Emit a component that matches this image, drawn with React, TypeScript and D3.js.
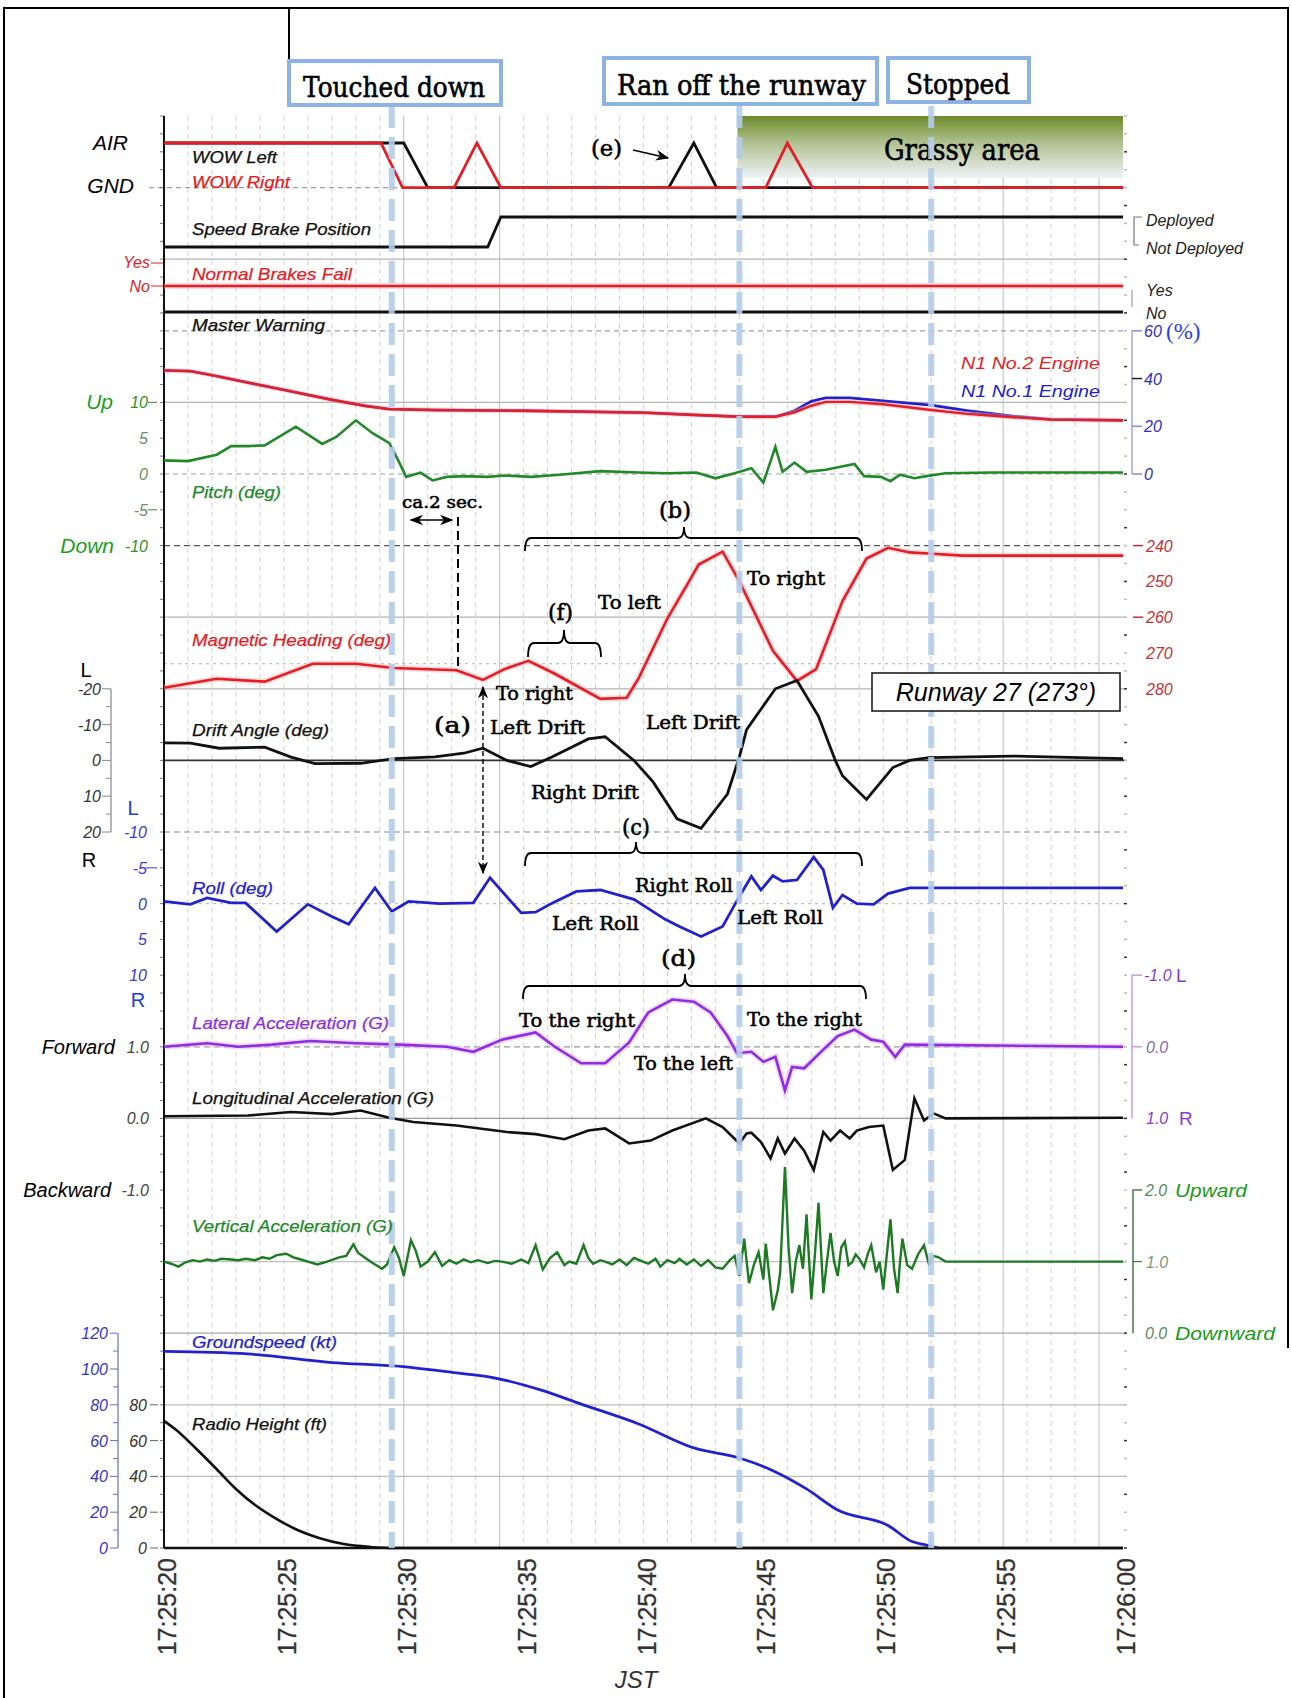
import React from "react";
import * as d3 from "d3";

// ---- time axis (seconds after 17:25:20) ----
const tickSeconds = [0, 5, 10, 15, 20, 25, 30, 35, 40];
const tickLabels = ["17:25:20", "17:25:25", "17:25:30", "17:25:35", "17:25:40", "17:25:45", "17:25:50", "17:25:55", "17:26:00"];
const solidGridSeconds = [10, 14, 35, 39];
const eventSeconds = [9.5, 24, 32];

// ---- discrete parameters (1 = AIR / Deployed / Yes) ----
const wowLeft = [[0, 1], [10, 1], [11, 0], [21.05, 0], [22.1, 1], [23.05, 0], [40, 0]];
const wowRight = [[0, 1], [9.05, 1], [9.95, 0], [12.1, 0], [13.05, 1], [14.05, 0], [25.1, 0], [26.0, 1], [27.05, 0], [40, 0]];
const speedBrake = [[0, 0], [13.5, 0], [14.05, 1], [40, 1]];
const brakesFail = [[0, 0], [40, 0]];
const masterWarning = [[0, 0], [40, 0]];

// ---- N1 (%) ----
const n1No1 = [[0, 43.4], [1.1, 43.1], [2.2, 41], [3.5, 38.3], [5.3, 34.6], [7, 31.1], [8.4, 28.5], [9.4, 27.2], [11.3, 26.8], [15, 26.5], [20, 25.7], [22, 24.8], [24, 24], [25.5, 24], [26.3, 26.5], [27, 30.5], [27.6, 31.9], [28.6, 31.9], [30, 30.6], [32, 28.9], [33.5, 26.5], [35.4, 24.2], [37, 22.9], [40, 22.5]];
const n1No2 = [[0, 43.4], [1.1, 43.1], [2.2, 41], [3.5, 38.3], [5.3, 34.6], [7, 31.1], [8.4, 28.5], [9.4, 27.2], [11.3, 26.8], [15, 26.5], [20, 25.7], [22, 24.8], [24, 24], [25.5, 24], [26.3, 25.8], [27, 28.6], [27.6, 30.2], [28.6, 30.2], [30, 29.2], [32, 26.8], [33.5, 25.2], [35.4, 23.8], [37, 22.8], [40, 22.5]];

// ---- pitch (deg) ----
const pitch = [[0, 1.9], [1.0, 1.8], [2.2, 2.7], [2.8, 3.9], [3.5, 3.9], [4.2, 4.0], [5.5, 6.6], [6.6, 4.2], [7.2, 5.2], [8.0, 7.5], [8.7, 5.7], [9.4, 4.3], [9.8, 1.7], [10.1, -0.4], [10.7, 0.2], [11.2, -0.9], [11.8, -0.4], [12.5, -0.3], [13.5, -0.4], [14.2, -0.2], [15.3, -0.4], [16.5, -0.1], [18.2, 0.4], [19.8, 0.2], [21, 0.1], [22.2, 0.2], [23.0, -0.6], [23.8, 0.1], [24.5, 0.8], [25.0, -1.2], [25.5, 3.8], [25.8, 0.3], [26.3, 1.6], [26.8, 0.3], [27.6, 0.6], [28.8, 1.4], [29.2, -0.3], [29.9, -0.4], [30.3, -1.0], [30.7, -0.1], [31.3, -0.6], [31.8, -0.3], [32.6, 0.1], [34.5, 0.2], [40, 0.2]];

// ---- magnetic heading (deg) ----
const heading = [[0, 279.7], [2.2, 277.2], [4.2, 278], [6.2, 273], [8, 273], [9.6, 274.2], [12.2, 274.8], [13.3, 277.5], [14.2, 274.5], [15.2, 272.2], [16.3, 275.8], [18.2, 282.8], [19.3, 282.5], [19.8, 277], [21, 260.3], [21.9, 250], [22.3, 245.3], [23.3, 241.7], [24, 250], [25.4, 269.4], [26.4, 277.8], [27.2, 274.5], [28.3, 255.5], [29.3, 243.6], [30.2, 240.6], [31.1, 241.9], [31.9, 242.2], [33.3, 242.8], [40, 242.8]];

// ---- drift angle (deg, negative = left) ----
const drift = [[0, -4.9], [1.1, -4.8], [2.3, -3.4], [4.2, -3.7], [5.3, -0.9], [6.3, 0.9], [8.2, 0.8], [9.6, -0.5], [11.3, -1], [12.5, -2], [13.3, -3.4], [14.3, 0], [15.3, 1.7], [16.2, -1], [17.7, -6], [18.4, -6.6], [19.6, 0], [20.4, 6], [21.4, 16.3], [22.4, 19], [23.5, 9.4], [24, -1], [24.3, -8.6], [25.5, -20], [26.4, -22.3], [27.3, -12.3], [28, 0], [28.3, 4.3], [29.3, 10.9], [30.4, 2], [31.1, 0], [31.9, -0.8], [35.4, -1.2], [40, -0.5]];

// ---- roll (deg, negative = left) ----
const roll = [[0, -0.3], [1.1, 0.1], [1.8, -0.8], [2.8, -0.1], [3.4, -0.1], [4.7, 3.9], [6.0, 0.1], [7.0, 1.8], [7.7, 2.9], [8.8, -2.2], [9.5, 1.1], [10.2, -0.3], [11.5, 0], [12.9, -0.1], [13.6, -3.6], [14.9, 1.3], [15.5, 1.2], [16.1, 0.1], [17.2, -1.7], [18.2, -1.9], [19.6, -0.6], [20.9, 2.2], [21.5, 3.2], [22.4, 4.6], [23.3, 3.2], [24, -1], [24.5, -3.8], [24.9, -1.9], [25.4, -3.9], [25.8, -3.1], [26.4, -3.3], [27.1, -6.5], [27.5, -4.7], [27.9, 0.6], [28.3, -1.2], [28.9, 0], [29.6, 0.1], [30.2, -1.4], [31.1, -2.2], [40, -2.2]];

// ---- lateral acceleration (G, negative = left) ----
const latAcc = [[0, 0], [1.8, -0.05], [3.1, 0], [4.5, -0.03], [6.1, -0.08], [8, -0.05], [9.8, -0.03], [11.8, 0], [12.9, 0.07], [14.1, -0.1], [15.5, -0.2], [16.3, 0], [17.4, 0.23], [18.4, 0.23], [19.4, -0.06], [20.2, -0.48], [21.2, -0.66], [22.1, -0.63], [22.8, -0.48], [23.5, -0.15], [23.9, 0.09], [24.5, 0.07], [25, 0.21], [25.5, 0.14], [25.9, 0.61], [26.2, 0.28], [26.7, 0.3], [27.5, 0.04], [28.1, -0.15], [28.8, -0.24], [29.5, -0.1], [30, -0.07], [30.5, 0.14], [30.9, -0.03], [40, 0]];

// ---- longitudinal acceleration (G, positive = forward) ----
const lonAcc = [[0, 0.03], [3.5, 0.04], [5.3, 0.09], [7, 0.06], [8.2, 0.11], [9.4, 0.01], [10.4, -0.05], [12.2, -0.1], [14.3, -0.19], [15.5, -0.22], [16.7, -0.29], [17.7, -0.17], [18.4, -0.14], [19.4, -0.35], [20.3, -0.31], [21.2, -0.17], [22.6, 0], [23.3, -0.12], [24.0, -0.35], [24.3, -0.21], [24.5, -0.2], [24.9, -0.33], [25.3, -0.56], [25.6, -0.28], [25.9, -0.49], [26.3, -0.28], [26.7, -0.45], [27.1, -0.72], [27.5, -0.19], [27.8, -0.31], [28.2, -0.17], [28.6, -0.28], [28.9, -0.17], [29.4, -0.12], [30.0, -0.1], [30.4, -0.72], [30.9, -0.58], [31.3, 0.28], [31.7, -0.03], [32.1, 0.07], [32.6, 0], [40, 0.01]];

// ---- vertical acceleration (G) ----
const vertAcc = [[0, 1.0], [0.3, 0.97], [0.6, 0.93], [0.9, 0.99], [1.2, 1.02], [1.5, 1.0], [1.8, 1.03], [2.1, 1.01], [2.4, 1.04], [2.8, 1.03], [3.1, 1.02], [3.4, 1.04], [3.8, 1.02], [4.1, 1.06], [4.4, 1.04], [4.7, 1.09], [5.1, 1.11], [5.4, 1.06], [5.6, 1.04], [6.0, 1.0], [6.4, 0.96], [6.8, 1.0], [7.3, 1.06], [7.6, 1.08], [7.9, 1.24], [8.1, 1.12], [8.4, 1.05], [8.7, 0.98], [9.1, 0.9], [9.3, 0.96], [9.6, 1.2], [9.8, 1.05], [10.0, 0.8], [10.3, 1.3], [10.5, 1.15], [10.7, 0.93], [11.0, 1.0], [11.3, 1.13], [11.6, 0.94], [11.9, 1.02], [12.2, 0.97], [12.5, 1.03], [12.8, 0.99], [13.1, 1.02], [13.5, 0.98], [13.8, 1.01], [14.1, 1.0], [14.5, 0.97], [14.9, 1.03], [15.2, 0.98], [15.5, 1.23], [15.8, 0.89], [16.1, 1.05], [16.4, 1.13], [16.7, 0.95], [16.9, 1.0], [17.2, 0.97], [17.5, 1.23], [17.7, 1.05], [17.9, 0.97], [18.2, 1.02], [18.4, 1.0], [18.7, 0.96], [19.0, 1.03], [19.3, 0.95], [19.6, 1.05], [19.9, 1.01], [20.2, 0.97], [20.5, 1.04], [20.7, 0.93], [21.0, 1.02], [21.3, 0.98], [21.5, 1.04], [21.8, 0.96], [22.1, 1.03], [22.4, 0.94], [22.7, 1.02], [23.0, 0.92], [23.3, 0.9], [23.6, 1.02], [23.8, 1.08], [24.0, 0.8], [24.2, 1.32], [24.4, 0.7], [24.6, 0.95], [24.8, 1.13], [25.0, 0.75], [25.1, 1.25], [25.4, 0.32], [25.6, 0.6], [25.7, 0.85], [25.9, 2.32], [26.05, 1.2], [26.2, 0.56], [26.35, 1.0], [26.5, 1.23], [26.65, 0.9], [26.8, 1.66], [27.0, 0.47], [27.15, 1.1], [27.3, 1.82], [27.5, 0.56], [27.65, 1.0], [27.8, 1.4], [27.95, 1.0], [28.1, 0.8], [28.25, 1.2], [28.4, 1.28], [28.55, 0.95], [28.7, 0.99], [28.85, 1.1], [29.0, 1.04], [29.2, 0.92], [29.35, 1.1], [29.5, 1.23], [29.7, 0.85], [29.85, 1.0], [30.0, 0.61], [30.15, 1.1], [30.3, 1.59], [30.45, 0.9], [30.6, 0.56], [30.7, 1.0], [30.8, 1.32], [31.0, 0.95], [31.2, 0.9], [31.45, 1.1], [31.7, 1.23], [31.9, 0.97], [32.1, 1.08], [32.3, 1.06], [32.6, 1.0], [33, 1.0], [40, 1.0]];

// ---- groundspeed (kt) and radio height (ft) ----
const groundSpeed = [[0, 109.8], [3.5, 108.4], [7, 103.6], [9.6, 101.7], [12.2, 97.8], [13.6, 95.5], [15.7, 88.3], [17.4, 80.4], [19.8, 69.3], [22.1, 55.9], [24, 50.3], [25.4, 43.2], [26.8, 33], [28.1, 21.2], [30.2, 12.6], [31.2, 3.6], [31.8, 1.6], [32.3, 0]];
const radioHeight = [[0, 71], [0.5, 66], [1.3, 56], [2.2, 44], [3.0, 33], [3.8, 24], [4.6, 17], [5.5, 10.5], [6.5, 5.5], [7.5, 2.2], [8.6, 0.6], [9.6, 0], [40, 0]];

// ---- axis tick values ----
const n1Ticks = [0, 20, 40, 60];
const headingTicks = [240, 250, 260, 270, 280];
const pitchTicks = [10, 5, 0, -5, -10];
const driftTicks = [-20, -10, 0, 10, 20];
const rollTicks = [-10, -5, 0, 5, 10];
const speedTicks = [0, 20, 40, 60, 80, 100, 120];
const heightTicks = [0, 20, 40, 60, 80];

const W = 1291;
const H = 1698;
const X0 = 164;
const X1 = 1123;
const YB = 1548;
const YT = 116;
const U = (YB - YT) / 40;
const yG = (k: number) => YB - k * U;

const SANS = "Liberation Sans, Arial, sans-serif";
const SERIF = "DejaVu Serif, serif";
const RED = "#e41e26";
const BLUE = "#2222cc";
const GREEN = "#22882a";
const PURPLE = "#8e2ee0";
const MARK = "#b3cdea";

export default function App() {
  const x = d3.scaleLinear().domain([0, 40]).range([X0, X1]);
  const yWow = d3.scaleLinear().domain([0, 1]).range([yG(38), 143]);
  const ySpd = d3.scaleLinear().domain([0, 1]).range([247, 217]);
  const yBrk = d3.scaleLinear().domain([0, 1]).range([286, 263]);
  const yMw = d3.scaleLinear().domain([0, 1]).range([312, 290]);
  const yN1 = d3.scaleLinear().domain([0, 60]).range([yG(30), yG(34)]);
  const yPitch = d3.scaleLinear().domain([-10, 10]).range([yG(28), yG(32)]);
  const yHdg = d3.scaleLinear().domain([240, 280]).range([yG(28), yG(24)]);
  const yDrift = d3.scaleLinear().domain([-20, 20]).range([yG(24), yG(20)]);
  const yRoll = d3.scaleLinear().domain([-10, 10]).range([yG(20), yG(16)]);
  const yLat = d3.scaleLinear().domain([-1, 1]).range([yG(16), yG(12)]);
  const yLon = d3.scaleLinear().domain([-1, 1]).range([yG(10), yG(14)]);
  const yVert = d3.scaleLinear().domain([0, 2]).range([yG(6), yG(10)]);
  const yGs = d3.scaleLinear().domain([0, 120]).range([yG(0), yG(6)]);
  const yRh = d3.scaleLinear().domain([0, 80]).range([yG(0), yG(4)]);

  const path = (data: number[][], ys: d3.ScaleLinear<number, number>, curve: d3.CurveFactory = d3.curveLinear) =>
    d3.line<number[]>().x((d) => x(d[0])).y((d) => ys(d[1])).curve(curve)(data) || "";

  const hGrid = [
    { y: yG(38), dash: "5 4", c: "#a0a0a0" },
    { y: yG(36), dash: "", c: "#b4b4b4" },
    { y: yG(34), dash: "5 4", c: "#a0a0a0" },
    { y: yG(32), dash: "", c: "#b4b4b4" },
    { y: yG(30), dash: "5 4", c: "#a0a0a0" },
    { y: yG(28), dash: "6 4", c: "#555" },
    { y: yG(26), dash: "", c: "#b4b4b4" },
    { y: yHdg(273), dash: "3 4", c: "#b0b0b0" },
    { y: yG(24), dash: "", c: "#b4b4b4" },
    { y: yG(22), dash: "", c: "#333" },
    { y: yG(20), dash: "6 4", c: "#8a8a8a" },
    { y: yG(18), dash: "3 4", c: "#c0c0c0" },
    { y: yG(14), dash: "6 4", c: "#9a9a9a" },
    { y: yG(12), dash: "", c: "#9a9a9a" },
    { y: yG(8), dash: "", c: "#c0c0c0" },
    { y: yG(6), dash: "", c: "#a8a8a8" },
    { y: yG(4), dash: "", c: "#bcbcbc" },
    { y: yG(2), dash: "", c: "#bcbcbc" },
  ];

  const seriesLabels = [
    { t: "WOW Left", y: 157, w: 85, c: "#111" },
    { t: "WOW Right", y: 182, w: 98, c: RED },
    { t: "Speed Brake Position", y: 229, w: 179, c: "#111" },
    { t: "Normal Brakes Fail", y: 274, w: 160, c: RED },
    { t: "Master Warning", y: 325, w: 133, c: "#111" },
    { t: "Pitch (deg)", y: 492, w: 89, c: GREEN },
    { t: "Magnetic Heading (deg)", y: 640, w: 199, c: RED },
    { t: "Drift Angle (deg)", y: 730, w: 137, c: "#111" },
    { t: "Roll (deg)", y: 888, w: 81, c: BLUE },
    { t: "Lateral Acceleration (G)", y: 1023, w: 197, c: PURPLE },
    { t: "Longitudinal Acceleration (G)", y: 1098, w: 242, c: "#111" },
    { t: "Vertical Acceleration (G)", y: 1226, w: 201, c: GREEN },
    { t: "Groundspeed (kt)", y: 1342, w: 145, c: BLUE },
    { t: "Radio Height (ft)", y: 1424, w: 135, c: "#111" },
  ];

  const brace = (x1: number, x2: number, tip: number, yh: number, yEnd: number, yTip: number) =>
    `M${x1},${yEnd} Q${x1},${yh} ${x1 + 6},${yh} L${tip - 6},${yh} Q${tip},${yh} ${tip},${yTip} Q${tip},${yh} ${tip + 6},${yh} L${x2 - 6},${yh} Q${x2},${yh} ${x2},${yEnd}`;

  // serif annotation text, squeezed to the measured width and slightly emboldened
  const ann = (t: string, x0: number, y: number, w: number, size = 19) => (
    <text key={t + x0 + y} x={x0} y={y} fontFamily={SERIF} fontSize={size} textLength={w} lengthAdjust="spacingAndGlyphs"
      fill="#000" stroke="#000" strokeWidth={0.55}>
      {t}
    </text>
  );

  const minorTicks = d3.range(0, 81).map((i) => YB - (i * U) / 2);

  return (
    <svg width={W} height={H} style={{ position: "absolute", left: 0, top: 0, background: "#fff" }}>
      <defs>
        <linearGradient id="grass" x1="0" y1="0" x2="0" y2="1">
          <stop offset="0" stopColor="#6c8a2a" />
          <stop offset="0.45" stopColor="#b3c394" />
          <stop offset="1" stopColor="#eef3f7" />
        </linearGradient>
        <marker id="ah" viewBox="0 0 10 10" refX="9" refY="5" markerWidth="9" markerHeight="9" orient="auto-start-reverse">
          <path d="M0,1 L10,5 L0,9 L3,5 Z" fill="#000" />
        </marker>
      </defs>

      {/* frame */}
      <path d="M4,1698 L4,8 L1288,8 L1288,1348" fill="none" stroke="#000" strokeWidth={2} />
      <line x1={289} y1={8} x2={289} y2={62} stroke="#000" strokeWidth={2} />

      {/* vertical grid */}
      {d3.range(1, 40).map((t) => (
        <line key={"vg" + t} x1={x(t)} x2={x(t)} y1={YT} y2={YB}
          stroke={solidGridSeconds.includes(t) ? "#bdbdbd" : "#d2d2d2"}
          strokeDasharray={solidGridSeconds.includes(t) ? undefined : "5 4"} strokeWidth={1} />
      ))}
      {/* horizontal grid */}
      {hGrid.map((g, i) => (
        <line key={"hg" + i} x1={i === 0 ? 149 : X0} x2={X1 + 2} y1={g.y} y2={g.y} stroke={g.c}
          strokeDasharray={g.dash || undefined} strokeWidth={i === 9 ? 1.6 : 1.2} />
      ))}

      {/* grassy area */}
      <rect x={x(24) - 2} y={YT} width={X1 - x(24) + 2} height={62} fill="url(#grass)" />
      <text x={962} y={160} textAnchor="middle" fontFamily={SERIF} fontSize={29} textLength={156} lengthAdjust="spacingAndGlyphs"
        stroke="#000" strokeWidth={0.6}>Grassy area</text>

      {/* minor ticks */}
      {minorTicks.map((y, i) => (
        <g key={"mt" + i}>
          <line x1={X0 - 4} x2={X0} y1={y} y2={y} stroke="#777" strokeWidth={1} />
          <line x1={X1 + 1} x2={X1 + 4} y1={y} y2={y} stroke={i % 3 === 0 ? "#333" : "#bbb"} strokeWidth={1.5} />
        </g>
      ))}

      {/* axes */}
      <line x1={X0} x2={X0} y1={YT} y2={YB} stroke="#111" strokeWidth={2} />
      <line x1={X0} x2={X1} y1={YB} y2={YB} stroke="#111" strokeWidth={2.5} />

      {/* data lines */}
      <path d={path(wowLeft, yWow)} fill="none" stroke="#111" strokeWidth={2.8} />
      <path d={path(wowRight, yWow)} fill="none" stroke={RED} strokeWidth={2.8} />
      <path d={path(speedBrake, ySpd)} fill="none" stroke="#111" strokeWidth={2.8} />
      <path d={path(brakesFail, yBrk)} fill="none" stroke="#f6b0b4" strokeWidth={6} opacity={0.5} />
      <path d={path(brakesFail, yBrk)} fill="none" stroke={RED} strokeWidth={2.6} />
      <path d={path(masterWarning, yMw)} fill="none" stroke="#111" strokeWidth={3} />

      <path d={path(n1No1, yN1)} fill="none" stroke={BLUE} strokeWidth={2.8} />
      <path d={path(n1No2, yN1)} fill="none" stroke="#f4a8ac" strokeWidth={5} opacity={0.45} />
      <path d={path(n1No2, yN1)} fill="none" stroke={RED} strokeWidth={2.4} />

      <path d={path(pitch, yPitch)} fill="none" stroke={GREEN} strokeWidth={2.6} />
      <path d={path(heading, yHdg)} fill="none" stroke="#f6b0b4" strokeWidth={6} opacity={0.45} />
      <path d={path(heading, yHdg)} fill="none" stroke={RED} strokeWidth={2.6} />
      <path d={path(drift, yDrift)} fill="none" stroke="#111" strokeWidth={2.8} />
      <path d={path(roll, yRoll)} fill="none" stroke={BLUE} strokeWidth={2.8} />
      <path d={path(latAcc, yLat)} fill="none" stroke="#e2b4f4" strokeWidth={6} opacity={0.5} />
      <path d={path(latAcc, yLat)} fill="none" stroke={PURPLE} strokeWidth={2.6} />
      <path d={path(lonAcc, yLon)} fill="none" stroke="#111" strokeWidth={2.6} />
      <path d={path(vertAcc, yVert)} fill="none" stroke="#1c7a22" strokeWidth={2.4} />
      <path d={path(groundSpeed, yGs, d3.curveMonotoneX)} fill="none" stroke={BLUE} strokeWidth={2.8} />
      <path d={path(radioHeight, yRh, d3.curveMonotoneX)} fill="none" stroke="#111" strokeWidth={2.6} />

      {/* event markers */}
      {eventSeconds.map((t) => (
        <line key={"ev" + t} x1={x(t)} x2={x(t)} y1={106} y2={YB} stroke={MARK} strokeWidth={6} strokeDasharray="22 9" opacity={0.9} />
      ))}

      {/* event boxes */}
      <rect x={289} y={61} width={212} height={44} fill="#fff" stroke="#8db3e2" strokeWidth={4} />
      <text x={303} y={97} fontFamily={SERIF} fontSize={27} textLength={182} lengthAdjust="spacingAndGlyphs" stroke="#000" strokeWidth={0.6}>Touched down</text>
      <rect x={604} y={58} width={273} height={46} fill="#fff" stroke="#8db3e2" strokeWidth={4} />
      <text x={617} y={95} fontFamily={SERIF} fontSize={27} textLength={249} lengthAdjust="spacingAndGlyphs" stroke="#000" strokeWidth={0.6}>Ran off the runway</text>
      <rect x={888} y={58} width={141} height={44} fill="#fff" stroke="#8db3e2" strokeWidth={4} />
      <text x={906} y={94} fontFamily={SERIF} fontSize={27} textLength={104} lengthAdjust="spacingAndGlyphs" stroke="#000" strokeWidth={0.6}>Stopped</text>

      {/* series labels */}
      {seriesLabels.map((l) => (
        <text key={l.t} x={192} y={l.y + 6} fontFamily={SANS} fontStyle="italic" fontSize={16.5} fill={l.c}
          stroke={l.c} strokeWidth={0.25} textLength={l.w} lengthAdjust="spacingAndGlyphs">{l.t}</text>
      ))}

      {/* left labels: discrete */}
      <text x={128} y={150} textAnchor="end" fontFamily={SANS} fontStyle="italic" fontSize={21}>AIR</text>
      <text x={134} y={193} textAnchor="end" fontFamily={SANS} fontStyle="italic" fontSize={21}>GND</text>
      <text x={150} y={268} textAnchor="end" fontFamily={SANS} fontStyle="italic" fontSize={16} fill={RED}>Yes</text>
      <text x={150} y={292} textAnchor="end" fontFamily={SANS} fontStyle="italic" fontSize={16} fill={RED}>No</text>
      <line x1={151} x2={163} y1={yBrk(1)} y2={yBrk(1)} stroke={RED} strokeWidth={1} />
      <line x1={151} x2={163} y1={yBrk(0)} y2={yBrk(0)} stroke={RED} strokeWidth={1} />

      {/* pitch axis */}
      <text x={113} y={yPitch(10) + 7} textAnchor="end" fontFamily={SANS} fontStyle="italic" fontSize={21} fill="#1a9e1a">Up</text>
      <text x={114} y={yPitch(-10) + 7} textAnchor="end" fontFamily={SANS} fontStyle="italic" fontSize={21} fill="#1a9e1a">Down</text>
      {pitchTicks.map((v) => (
        <g key={"pt" + v}>
          <text x={148} y={yPitch(v) + 6} textAnchor="end" fontFamily={SANS} fontStyle="italic" fontSize={16} fill={v === 10 || v === -10 ? "#2a942a" : "#6a8f6a"}>{v}</text>
          {(v === 10 || v === -5) && <line x1={148} x2={157} y1={yPitch(v)} y2={yPitch(v)} stroke="#6a8f6a" strokeWidth={1.2} />}
        </g>
      ))}

      {/* drift axis */}
      <line x1={111} x2={111} y1={yDrift(-20)} y2={yDrift(20)} stroke="#888" strokeWidth={1.2} />
      {d3.range(-20, 21, 5).map((v) => (
        <line key={"dmt" + v} x1={v % 10 === 0 ? 102 : 106} x2={111} y1={yDrift(v)} y2={yDrift(v)} stroke="#888" strokeWidth={1} />
      ))}
      {driftTicks.map((v) => (
        <text key={"dt" + v} x={101} y={yDrift(v) + 6} textAnchor="end" fontFamily={SANS} fontStyle="italic" fontSize={16} fill="#333">{v}</text>
      ))}
      <text x={86} y={677} textAnchor="middle" fontFamily={SANS} fontSize={20}>L</text>
      <text x={89} y={867} textAnchor="middle" fontFamily={SANS} fontSize={20}>R</text>

      {/* roll axis */}
      {rollTicks.map((v) => (
        <g key={"rt" + v}>
          <text x={147} y={yRoll(v) + 6} textAnchor="end" fontFamily={SANS} fontStyle="italic" fontSize={16} fill="#3a3ad0">{v}</text>
          {v === -5 && <line x1={146} x2={157} y1={yRoll(v)} y2={yRoll(v)} stroke="#5a5ad0" strokeWidth={1.2} />}
        </g>
      ))}
      <text x={133} y={815} textAnchor="middle" fontFamily={SANS} fontSize={20} fill="#2040d0">L</text>
      <text x={138} y={1007} textAnchor="middle" fontFamily={SANS} fontSize={20} fill="#2040d0">R</text>

      {/* longitudinal axis */}
      <text x={115} y={yLon(1) + 7} textAnchor="end" fontFamily={SANS} fontStyle="italic" fontSize={20}>Forward</text>
      <text x={149} y={yLon(1) + 6} textAnchor="end" fontFamily={SANS} fontStyle="italic" fontSize={16} fill="#444">1.0</text>
      <text x={149} y={yLon(0) + 6} textAnchor="end" fontFamily={SANS} fontStyle="italic" fontSize={16} fill="#444">0.0</text>
      <text x={111} y={yLon(-1) + 7} textAnchor="end" fontFamily={SANS} fontStyle="italic" fontSize={20}>Backward</text>
      <text x={149} y={yLon(-1) + 6} textAnchor="end" fontFamily={SANS} fontStyle="italic" fontSize={16} fill="#444">-1.0</text>

      {/* groundspeed / radio height axes */}
      <line x1={118} x2={118} y1={yGs(120)} y2={yGs(0)} stroke="#6a6ad8" strokeWidth={1.2} />
      {d3.range(0, 121, 10).map((v) => (
        <line key={"gsm" + v} x1={v % 20 === 0 ? 110 : 113} x2={118} y1={yGs(v)} y2={yGs(v)} stroke="#6a6ad8" strokeWidth={1} />
      ))}
      {speedTicks.map((v) => (
        <text key={"gs" + v} x={108} y={yGs(v) + 6} textAnchor="end" fontFamily={SANS} fontStyle="italic" fontSize={16} fill="#3535c8">{v}</text>
      ))}
      {heightTicks.map((v) => (
        <g key={"rh" + v}>
          <text x={147} y={yRh(v) + 6} textAnchor="end" fontFamily={SANS} fontStyle="italic" fontSize={16} fill="#333">{v}</text>
          <line x1={150} x2={158} y1={yRh(v)} y2={yRh(v)} stroke="#666" strokeWidth={1} />
        </g>
      ))}

      {/* right side: speed brake, warnings */}
      <path d="M1142,217 L1134,217 L1134,245 L1139,245" fill="none" stroke="#777" strokeWidth={1.2} />
      <text x={1146} y={226} fontFamily={SANS} fontStyle="italic" fontSize={16} fill="#222">Deployed</text>
      <text x={1146} y={254} fontFamily={SANS} fontStyle="italic" fontSize={16} fill="#222">Not Deployed</text>
      <line x1={1132} x2={1132} y1={290} y2={307} stroke="#999" strokeWidth={1.2} />
      <text x={1146} y={296} fontFamily={SANS} fontStyle="italic" fontSize={16} fill="#222">Yes</text>
      <text x={1146} y={319} fontFamily={SANS} fontStyle="italic" fontSize={16} fill="#222">No</text>

      {/* N1 axis */}
      <line x1={1132} x2={1132} y1={yN1(60)} y2={yN1(0)} stroke="#8a8ae0" strokeWidth={1.2} />
      {n1Ticks.map((v) => (
        <g key={"n1" + v}>
          <line x1={1132} x2={1142} y1={yN1(v)} y2={yN1(v)} stroke={v === 40 ? "#222" : "#8a8ae0"} strokeWidth={1.5} />
          <text x={1144} y={yN1(v) + 6} fontFamily={SANS} fontStyle="italic" fontSize={16} fill="#2e2ec0">{v}</text>
        </g>
      ))}
      <text x={1166} y={yN1(60) + 8} fontFamily="Liberation Serif, serif" fontSize={23} fill="#1f3ff0">(%)</text>
      <text x={961} y={369} fontFamily={SANS} fontStyle="italic" fontSize={16} fill={RED} textLength={139} lengthAdjust="spacingAndGlyphs">N1 No.2  Engine</text>
      <text x={961} y={397} fontFamily={SANS} fontStyle="italic" fontSize={16} fill={BLUE} textLength={139} lengthAdjust="spacingAndGlyphs">N1 No.1  Engine</text>

      {/* heading axis */}
      {headingTicks.map((v) => (
        <g key={"hd" + v}>
          {(v === 240 || v === 260) && <line x1={1133} x2={1143} y1={yHdg(v)} y2={yHdg(v)} stroke="#c0303a" strokeWidth={1.5} />}
          <text x={1146} y={yHdg(v) + 6} fontFamily={SANS} fontStyle="italic" fontSize={16} fill="#c8303a">{v}</text>
        </g>
      ))}

      {/* lateral axis */}
      <path d={`M1142,${yLat(-1)} L1132,${yLat(-1)} L1132,${yLat(1)}`} fill="none" stroke="#b58ad8" strokeWidth={1.2} />
      <line x1={1132} x2={1142} y1={yLat(0)} y2={yLat(0)} stroke="#b58ad8" strokeWidth={1.2} />
      <text x={1144} y={yLat(-1) + 6} fontFamily={SANS} fontStyle="italic" fontSize={16} fill="#8a3ad0">-1.0</text>
      <text x={1176} y={yLat(-1) + 7} fontFamily={SANS} fontSize={19} fill="#8a3ad0">L</text>
      <text x={1146} y={yLat(0) + 6} fontFamily={SANS} fontStyle="italic" fontSize={16} fill="#8a6aa8">0.0</text>
      <text x={1146} y={yLat(1) + 6} fontFamily={SANS} fontStyle="italic" fontSize={16} fill="#8a3ad0">1.0</text>
      <text x={1179} y={yLat(1) + 7} fontFamily={SANS} fontSize={19} fill="#8a3ad0">R</text>

      {/* vertical acceleration axis */}
      <path d={`M1142,${yVert(2)} L1133,${yVert(2)} L1133,${yVert(0)}`} fill="none" stroke="#4a7a4a" strokeWidth={1.5} />
      <line x1={1133} x2={1142} y1={yVert(1)} y2={yVert(1)} stroke="#4a7a4a" strokeWidth={1.2} />
      <text x={1145} y={yVert(2) + 6} fontFamily={SANS} fontStyle="italic" fontSize={16} fill="#5a8a5a">2.0</text>
      <text x={1175} y={yVert(2) + 7} fontFamily={SANS} fontStyle="italic" fontSize={19} fill="#1a9a1a" textLength={72} lengthAdjust="spacingAndGlyphs">Upward</text>
      <text x={1146} y={yVert(1) + 6} fontFamily={SANS} fontStyle="italic" fontSize={16} fill="#7a9a7a">1.0</text>
      <text x={1145} y={yVert(0) + 6} fontFamily={SANS} fontStyle="italic" fontSize={16} fill="#5a8a5a">0.0</text>
      <text x={1175} y={yVert(0) + 7} fontFamily={SANS} fontStyle="italic" fontSize={19} fill="#1a9a1a" textLength={100} lengthAdjust="spacingAndGlyphs">Downward</text>

      {/* runway box */}
      <rect x={872} y={673} width={248} height={38} fill="#fff" stroke="#111" strokeWidth={1.5} />
      <text x={996} y={701} textAnchor="middle" fontFamily={SANS} fontStyle="italic" fontSize={25}>Runway 27 (273°)</text>

      {/* annotations */}
      {ann("(e)", 591, 156, 31, 22)}
      <line x1={633} y1={150} x2={668} y2={158} stroke="#000" strokeWidth={1.5} markerEnd="url(#ah)" />
      {ann("ca.2 sec.", 402, 508, 81, 17)}
      <line x1={411} y1={520} x2={452} y2={520} stroke="#000" strokeWidth={1.5} markerStart="url(#ah)" markerEnd="url(#ah)" />
      <line x1={458} y1={517} x2={458} y2={667} stroke="#000" strokeWidth={2} strokeDasharray="9 5" />
      {ann("(a)", 434, 733, 37, 22)}
      <line x1={483} y1={687} x2={483} y2={873} stroke="#000" strokeWidth={1.4} strokeDasharray="5 3" markerStart="url(#ah)" markerEnd="url(#ah)" />
      {ann("To right", 496, 700, 77)}
      {ann("Left Drift", 490, 734, 95)}
      {ann("(f)", 548, 620, 25, 22)}
      <path d={brace(528, 601, 564, 643, 657, 630)} fill="none" stroke="#000" strokeWidth={1.8} />
      {ann("To left", 598, 609, 63)}
      {ann("(b)", 659, 518, 32, 22)}
      <path d={brace(525, 862, 684, 538, 551, 527)} fill="none" stroke="#000" strokeWidth={1.8} />
      {ann("To right", 747, 585, 78)}
      {ann("Left Drift", 646, 729, 94)}
      {ann("Right Drift", 531, 799, 108)}
      {ann("(c)", 622, 835, 28, 22)}
      <path d={brace(525, 862, 636, 853, 866, 842)} fill="none" stroke="#000" strokeWidth={1.8} />
      {ann("Right Roll", 635, 892, 98)}
      {ann("Left Roll", 552, 930, 87)}
      {ann("Left Roll", 737, 924, 86)}
      {ann("(d)", 661, 966, 35, 22)}
      <path d={brace(523, 866, 685, 986, 999, 974)} fill="none" stroke="#000" strokeWidth={1.8} />
      {ann("To the right", 519, 1027, 116)}
      {ann("To the left", 634, 1070, 99)}
      {ann("To the right", 747, 1026, 115)}

      {/* time axis labels */}
      {tickSeconds.map((t, i) => (
        <text key={"tl" + t} transform={`translate(${x(t) + 3},1558) rotate(-90)`} textAnchor="end" dy="0.36em"
          fontFamily={SANS} fontSize={25} fill="#333" stroke="#333" strokeWidth={0.3}>{tickLabels[i]}</text>
      ))}
      <text x={636} y={1688} textAnchor="middle" fontFamily={SANS} fontStyle="italic" fontSize={24} fill="#333">JST</text>
    </svg>
  );
}
